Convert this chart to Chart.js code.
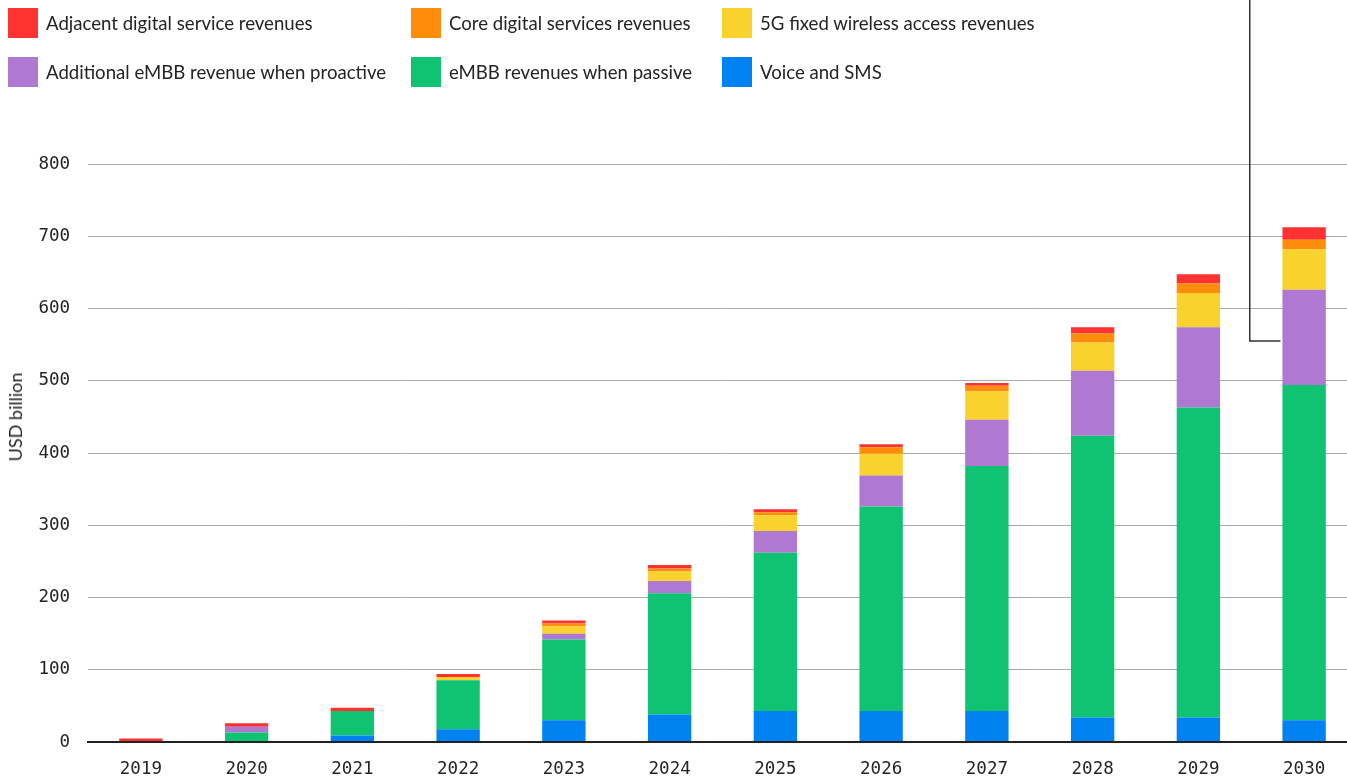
<!DOCTYPE html>
<html><head><meta charset="utf-8">
<script src="https://cdn.jsdelivr.net/npm/chart.js@4.4.0/dist/chart.umd.min.js"></script>
<style>
html,body{margin:0;padding:0;background:#fff;overflow:hidden;width:1347px;height:780px;}
#wrap{position:absolute;left:0;top:0;width:1357px;height:780px;}
#legend{position:absolute;left:0;top:0;width:1347px;height:100px;font-family:Lato,sans-serif;font-size:18.6px;color:#242424;}
.item{position:absolute;display:flex;align-items:center;height:30px;white-space:nowrap;}
.sw{width:30px;height:30px;margin-right:8px;flex:none;}
#ytitle{position:absolute;left:15px;top:417px;transform:translate(-50%,-50%) rotate(-90deg);font-family:Lato,sans-serif;font-size:18px;color:#242424;white-space:nowrap;}
</style></head>
<body>
<div id="wrap"><canvas id="c" width="1357" height="780"></canvas></div>
<div id="legend"></div>
<div id="ytitle">USD billion</div>
<script>
// ---- data (USD billion) ----
const years = ['2019','2020','2021','2022','2023','2024','2025','2026','2027','2028','2029','2030'];
const voiceSms      = [0,   0,  9, 17.5, 30,  38,  43,  43,  43,  34,  34,  30];
const embbPassive   = [0,  13, 34, 68,  112, 168, 219, 283, 339, 390, 429, 464];
const embbProactive = [0,   8,  0,  0,    8,  17,  30,  43,  64,  90, 111, 132];
const fwa5g         = [0,   0,  0, 4.5,  10,  13,  22,  30,  39,  39, 47.5, 56];
const coreDigital   = [0,   0,  0,  0,    4,   4,   4,   9,   8, 12.5, 13,  13];
const adjacentDigital=[5,   5, 4.5, 4,    4,   5,   4,   4,   4,  8.5, 13, 17.5];
const yTicks = [0,100,200,300,400,500,600,700,800];

// legend order as in the reference
const legendItems = [
  {label:'Adjacent digital service revenues', color:'#FF3232'},
  {label:'Core digital services revenues', color:'#FF8C0A'},
  {label:'5G fixed wireless access revenues', color:'#FAD22D'},
  {label:'Additional eMBB revenue when proactive', color:'#AF78D2'},
  {label:'eMBB revenues when passive', color:'#0FC373'},
  {label:'Voice and SMS', color:'#0082F0'}
];
const legendPos = [[8,8],[411,8],[722,8],[8,57],[411,57],[722,57]];
const lg = document.getElementById('legend');
legendItems.forEach((it,i)=>{
  const d=document.createElement('div');d.className='item';
  d.style.left=legendPos[i][0]+'px';d.style.top=legendPos[i][1]+'px';
  const s=document.createElement('div');s.className='sw';s.style.background=it.color;
  const t=document.createElement('span');t.textContent=it.label;
  d.appendChild(s);d.appendChild(t);lg.appendChild(d);
});

// stacking bottom-up
const series = [
  {label:'Voice and SMS', data:voiceSms, color:'#0082F0'},
  {label:'eMBB revenues when passive', data:embbPassive, color:'#0FC373'},
  {label:'Additional eMBB revenue when proactive', data:embbProactive, color:'#AF78D2'},
  {label:'5G fixed wireless access revenues', data:fwa5g, color:'#FAD22D'},
  {label:'Core digital services revenues', data:coreDigital, color:'#FF8C0A'},
  {label:'Adjacent digital service revenues', data:adjacentDigital, color:'#FF3232'}
];

const calloutPlugin = {
  id:'callout',
  afterDatasetsDraw(chart){
    const ctx=chart.ctx;
    const m29=chart.getDatasetMeta(2).data[10], m30=chart.getDatasetMeta(2).data[11];
    const xv=(m29.x+m29.width/2 + m30.x-m30.width/2)/2 - 1.5;
    const yv=(m30.y+m30.base)/2 + 3.5;
    const xe=m30.x-m30.width/2-2;
    ctx.save();ctx.strokeStyle='#333';ctx.lineWidth=1.5;
    ctx.beginPath();ctx.moveTo(xv,0);ctx.lineTo(xv,yv);ctx.lineTo(xe,yv);ctx.stroke();
    ctx.restore();
  }
};

new Chart(document.getElementById('c'),{
  type:'bar',
  data:{labels:years, datasets:series.map(s=>({label:s.label,data:s.data,backgroundColor:s.color,borderWidth:0,barPercentage:0.41,categoryPercentage:1}))},
  options:{
    responsive:false, animation:false, devicePixelRatio:1,
    layout:{padding:{top:164,right:0,bottom:0,left:0}},
    plugins:{legend:{display:false},tooltip:{enabled:false}},
    scales:{
      x:{stacked:true, grid:{display:false,drawTicks:false},
         afterFit(scale){scale.height=38;},
         border:{display:true,color:'#222',width:2},
         ticks:{padding:17,color:'#242424',font:{family:'DejaVu Sans Mono',size:17.5}}},
      y:{stacked:true,min:0,max:800,
         afterBuildTicks(scale){scale.ticks=yTicks.map(v=>({value:v}));},
         afterFit(scale){scale.width=88;},
         border:{display:false},
         grid:{drawTicks:false,color:c=>c.tick&&c.tick.value===0?'#222':'#aaaaaa',lineWidth:c=>c.tick&&c.tick.value===0?2:1},
         ticks:{padding:18,color:'#242424',font:{family:'DejaVu Sans Mono',size:17.5}}}
    }
  },
  plugins:[calloutPlugin]
});
</script>
</body></html>
